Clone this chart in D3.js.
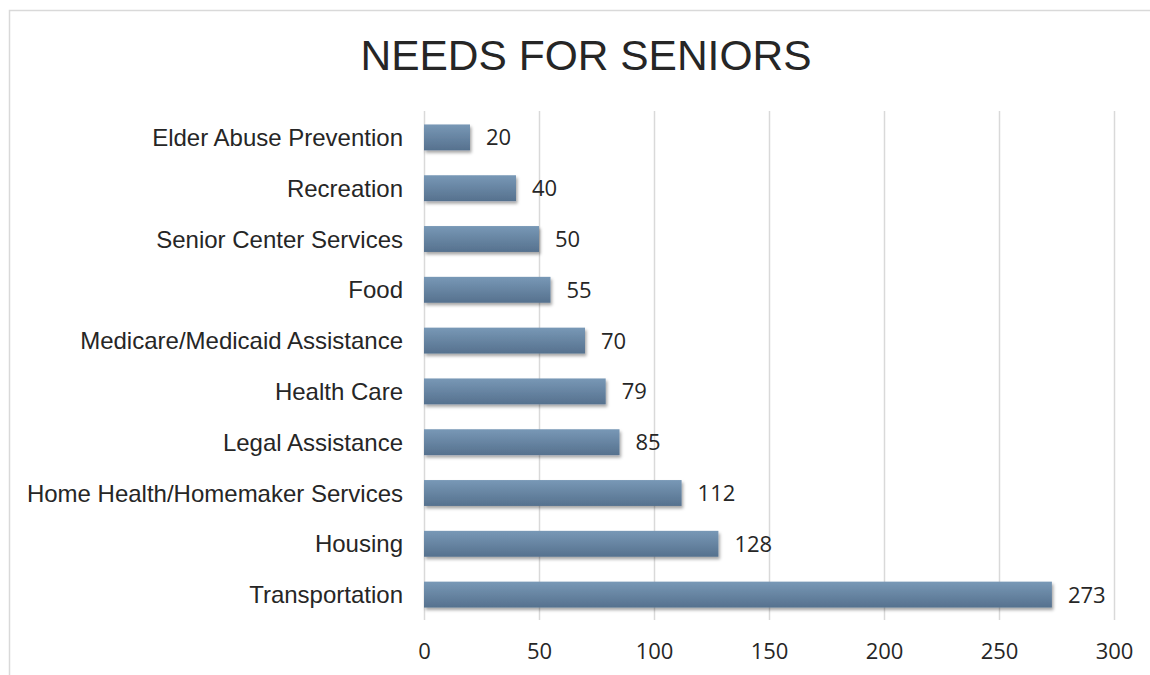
<!DOCTYPE html>
<html>
<head>
<meta charset="utf-8">
<script src="https://cdn.jsdelivr.net/npm/d3@7"></script>
<style>
  html, body { margin: 0; padding: 0; background: #fff; }
  svg { display: block; }
</style>
</head>
<body>
<svg id="chart" width="1150" height="675"></svg>
<script>
// Survey counts: number of responses per senior need
const categories = [
  "Elder Abuse Prevention",
  "Recreation",
  "Senior Center Services",
  "Food",
  "Medicare/Medicaid Assistance",
  "Health Care",
  "Legal Assistance",
  "Home Health/Homemaker Services",
  "Housing",
  "Transportation"
];
const values = [20, 40, 50, 55, 70, 79, 85, 112, 128, 273];
const xTicks = [0, 50, 100, 150, 200, 250, 300];
const title = "NEEDS FOR SENIORS";

const svg = d3.select("#chart");
const W = 1150, H = 675;
const plot = { left: 424, right: 1114, top: 112, bottom: 620 };

// chart frame
svg.append("rect")
  .attr("x", 9.5).attr("y", 10.5)
  .attr("width", W).attr("height", H)
  .attr("fill", "#fff")
  .attr("stroke", "#d9d9d9").attr("stroke-width", 1.5);

const defs = svg.append("defs");
const grad = defs.append("linearGradient")
  .attr("id", "barFill").attr("x1", 0).attr("y1", 0).attr("x2", 0).attr("y2", 1);
grad.append("stop").attr("offset", "0%").attr("stop-color", "#7898b6");
grad.append("stop").attr("offset", "100%").attr("stop-color", "#56718e");

const shadow = defs.append("filter").attr("id", "barShadow")
  .attr("x", "-5%").attr("y", "-30%").attr("width", "115%").attr("height", "180%");
shadow.append("feDropShadow")
  .attr("dx", 1.5).attr("dy", 2.5).attr("stdDeviation", 1.8)
  .attr("flood-color", "#000").attr("flood-opacity", 0.35);

const x = d3.scaleLinear().domain([0, 300]).range([plot.left, plot.right]);
const y = d3.scaleBand().domain(categories).range([plot.top, plot.bottom])
  .paddingInner(0.49).paddingOuter(0.245);

// title
svg.append("text")
  .attr("x", 586).attr("y", 70)
  .attr("text-anchor", "middle")
  .attr("font-family", "Liberation Sans, Arial, sans-serif")
  .attr("font-size", 42.5)
  .attr("fill", "#262626")
  .text(title);

// vertical gridlines
svg.append("g")
  .selectAll("line")
  .data(xTicks)
  .join("line")
  .attr("x1", d => x(d) + 0.5).attr("x2", d => x(d) + 0.5)
  .attr("y1", plot.top - 1).attr("y2", plot.bottom)
  .attr("stroke", "#d9d9d9").attr("stroke-width", 1.5);

// x-axis tick labels
const xAxis = d3.axisBottom(x).tickValues(xTicks).tickSize(0).tickPadding(0);
const gx = svg.append("g")
  .attr("transform", `translate(0,${plot.bottom})`)
  .call(xAxis);
gx.select(".domain").remove();
gx.selectAll("text")
  .attr("dy", null)
  .attr("y", 38.5)
  .attr("font-family", "Open Sans, sans-serif")
  .attr("font-size", 22)
  .attr("fill", "#262626");

// category labels
const yAxis = d3.axisLeft(y).tickSize(0).tickPadding(0);
const gy = svg.append("g")
  .attr("transform", `translate(${plot.left - 21},0)`)
  .call(yAxis);
gy.select(".domain").remove();
gy.selectAll("text")
  .attr("font-family", "Liberation Sans, Arial, sans-serif")
  .attr("font-size", 24)
  .attr("dy", "0.36em")
  .attr("fill", "#262626");

// bars
svg.append("g")
  .selectAll("rect")
  .data(values)
  .join("rect")
  .attr("x", x(0))
  .attr("y", (d, i) => y(categories[i]))
  .attr("width", d => x(d) - x(0))
  .attr("height", y.bandwidth())
  .attr("fill", "url(#barFill)")
  .attr("filter", "url(#barShadow)");

// value labels
svg.append("g")
  .selectAll("text")
  .data(values)
  .join("text")
  .attr("x", d => x(d) + 16)
  .attr("y", (d, i) => y(categories[i]) + y.bandwidth() / 2)
  .attr("dy", "0.36em")
  .attr("font-family", "Open Sans, sans-serif")
  .attr("font-size", 22)
  .attr("fill", "#262626")
  .text(d => d);
</script>
</body>
</html>
